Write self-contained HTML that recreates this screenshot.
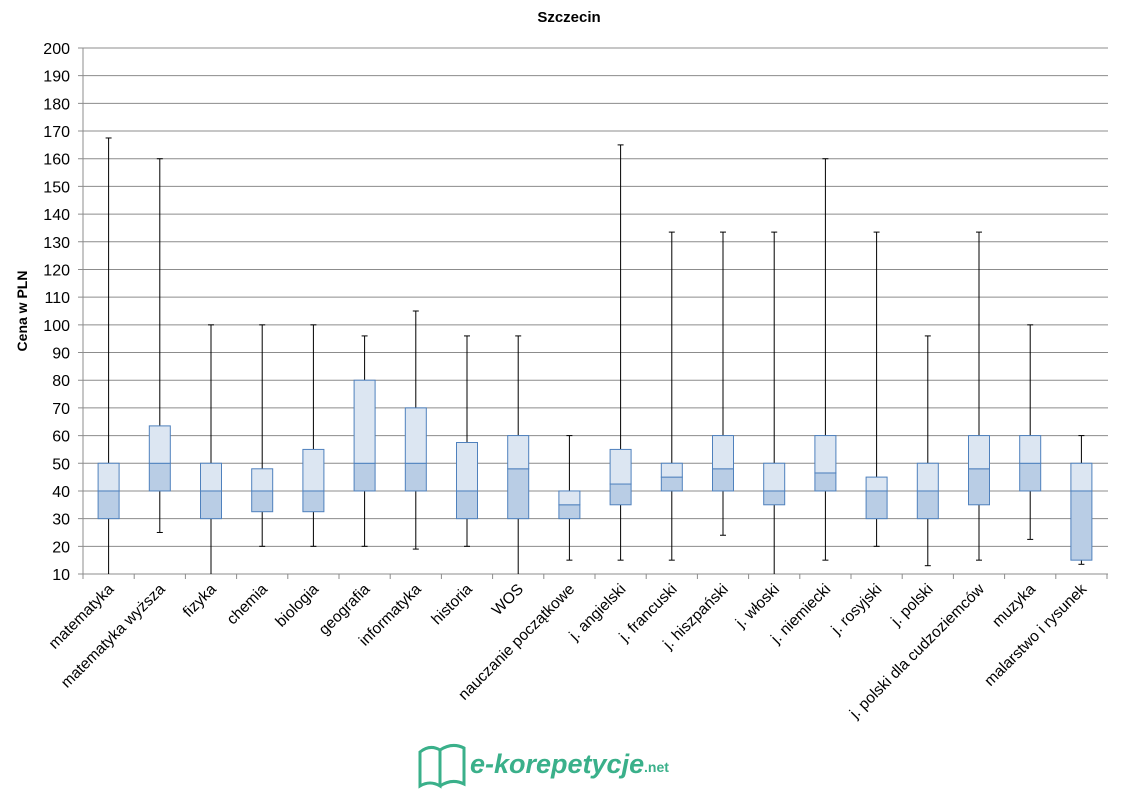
<!DOCTYPE html>
<html><head><meta charset="utf-8"><style>body{margin:0;background:#fff}svg{display:block;font-family:"Liberation Sans",sans-serif}</style></head><body>
<svg width="1125" height="799" viewBox="0 0 1125 799">
<text x="569" y="22" font-size="15" font-weight="bold" text-anchor="middle" fill="#000">Szczecin</text>
<text transform="translate(27,311) rotate(-90)" font-size="14" font-weight="bold" text-anchor="middle">Cena w PLN</text>
<g id="grid" stroke="#8c8c8c" stroke-width="1"></g>
<g id="data"></g>
<g id="labels" font-size="15.5" fill="#000"></g>
<g transform="translate(418,740)">
<path d="M2 12 Q12 4 22 10 L22 46 Q12 40 2 46 Z M22 10 Q34 2 46 8 L46 44 Q34 38 22 46" fill="none" stroke="#3ab08a" stroke-width="3"/>
<text x="52" y="33" font-size="27" font-weight="bold" font-style="italic" fill="#3ab08a">e-korepetycje</text>
<text x="226" y="32" font-size="14" font-weight="bold" fill="#3ab08a">.net</text>
</g>
</svg>
<script>
const L=83,W=51.2,T=48,B=574,ppu=(B-T)/190;
const Y=v=>B-(Math.max(v,10)-10)*ppu;
let g='';
for(let v=10;v<=200;v+=10){const y=Y(v);g+=`<line x1="78" x2="1108" y1="${y}" y2="${y}"/>`;}
g+=`<line x1="${L}" x2="${L}" y1="${T}" y2="${B}"/>`;
for(let i=0;i<=20;i++){const x=L+i*W;g+=`<line x1="${x}" x2="${x}" y1="${B}" y2="${B+5}"/>`;}
document.getElementById('grid').innerHTML=g;
let t='';for(let v=10;v<=200;v+=10)t+=`<text x="70" y="${Y(v)+6}" text-anchor="end" font-size="16">${v}</text>`;
const d=[["matematyka",5,30,40,50,167.5],["matematyka wyższa",25,40,50,63.5,160],["fizyka",5,30,40,50,100],["chemia",20,32.5,40,48,100],["biologia",20,32.5,40,55,100],["geografia",20,40,50,80,96],["informatyka",19,40,50,70,105],["historia",20,30,40,57.5,96],["WOS",5,30,48,60,96],["nauczanie początkowe",15,30,35,40,60],["j. angielski",15,35,42.5,55,165],["j. francuski",15,40,45,50,133.5],["j. hiszpański",24,40,48,60,133.5],["j. włoski",5,35,40,50,133.5],["j. niemiecki",15,40,46.5,60,160],["j. rosyjski",20,30,40,45,133.5],["j. polski",13,30,40,50,96],["j. polski dla cudzoziemców",15,35,48,60,133.5],["muzyka",22.5,40,50,60,100],["malarstwo i rysunek",13.5,15,40,50,60]];
let s='';
d.forEach((r,i)=>{const c=L+W*(i+0.5);const[n,mn,q1,md,q3,mx]=r;
s+=`<line x1="${c}" x2="${c}" y1="${Y(mx)}" y2="${Y(mn)}" stroke="#000"/>`;
s+=`<line x1="${c-3}" x2="${c+3}" y1="${Y(mx)}" y2="${Y(mx)}" stroke="#000"/>`;
if(mn>=10)s+=`<line x1="${c-3}" x2="${c+3}" y1="${Y(mn)}" y2="${Y(mn)}" stroke="#000"/>`;
s+=`<rect x="${c-10.5}" y="${Y(md)}" width="21" height="${Y(q1)-Y(md)}" fill="#b9cde5" stroke="#4f81bd"/>`;
s+=`<rect x="${c-10.5}" y="${Y(q3)}" width="21" height="${Y(md)-Y(q3)}" fill="#dce6f2" stroke="#4f81bd"/>`;
t+=`<text transform="translate(${c+6},${B+16}) rotate(-45)" text-anchor="end">${n}</text>`;});
document.getElementById('data').innerHTML=s;
document.getElementById('labels').innerHTML=t;
</script>
</body></html>
